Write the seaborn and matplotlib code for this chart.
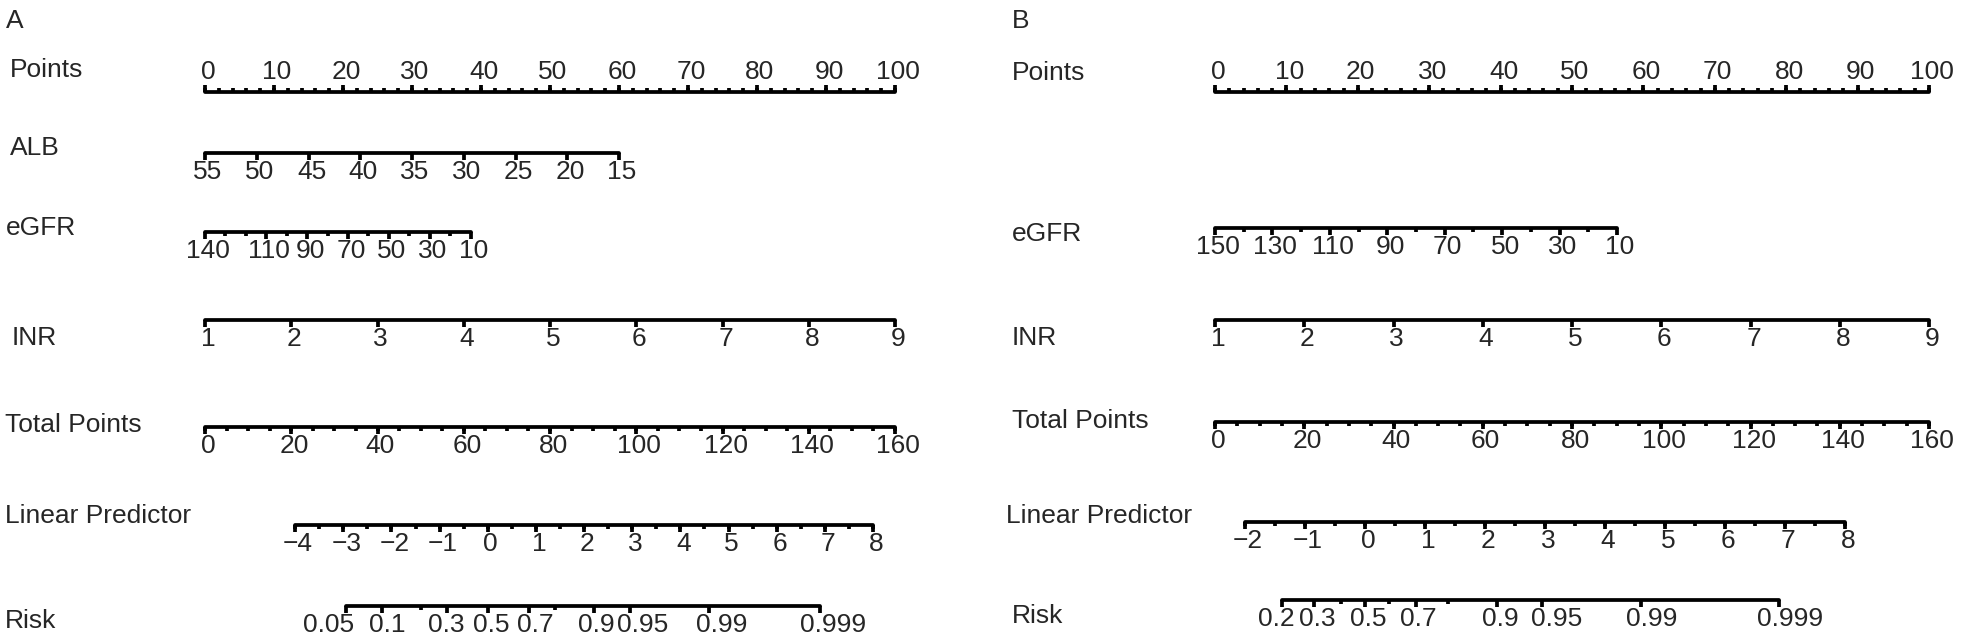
import numpy as np
import matplotlib
matplotlib.use("Agg")
import matplotlib.pyplot as plt
import seaborn as sns

# ---------------- data ----------------
points_major = list(range(0, 101, 10))
points_minor = list(range(0, 101, 2))
total_major = list(range(0, 161, 20))
total_minor = list(range(0, 161, 5))
total_max = 160

# Panel A
A_alb_ticks = [55, 50, 45, 40, 35, 30, 25, 20, 15]
A_alb_pts = (0, 60)                 # points at ALB 55 and ALB 15
A_egfr_ticks = [140, 130, 120, 110, 100, 90, 80, 70, 60, 50, 40, 30, 20, 10]
A_egfr_labels = [140, 110, 90, 70, 50, 30, 10]
A_egfr_pts = (0, 38.5)              # points at eGFR 140 and eGFR 10
A_inr_ticks = [1, 2, 3, 4, 5, 6, 7, 8, 9]
A_inr_pts = (0, 100)
A_lp_major = [-4, -3, -2, -1, 0, 1, 2, 3, 4, 5, 6, 7, 8]
A_lp_total = (20.9, 154.9)          # total points at LP -4 and LP 8
A_risk_ticks = [0.05, 0.1, 0.2, 0.3, 0.5, 0.7, 0.8, 0.9, 0.95, 0.99, 0.999]
A_risk_labels = ["0.05", "0.1", "", "0.3", "0.5", "0.7", "", "0.9", "0.95", "0.99", "0.999"]

# Panel B
B_egfr_ticks = [150, 140, 130, 120, 110, 100, 90, 80, 70, 60, 50, 40, 30, 20, 10]
B_egfr_labels = [150, 130, 110, 90, 70, 50, 30, 10]
B_egfr_pts = (0, 56.3)
B_inr_ticks = [1, 2, 3, 4, 5, 6, 7, 8, 9]
B_inr_pts = (0, 100)
B_lp_major = [-2, -1, 0, 1, 2, 3, 4, 5, 6, 7, 8]
B_lp_total = (6.7, 141.2)
B_risk_ticks = [0.2, 0.3, 0.4, 0.5, 0.6, 0.7, 0.8, 0.9, 0.95, 0.99, 0.999]
B_risk_labels = ["0.2", "0.3", "", "0.5", "", "0.7", "", "0.9", "0.95", "0.99", "0.999"]

# label nudges (pixels, layout only) as seen in the reference
A_risk_nudge = [-20, 2, 0, -4, 0, 4, 0, 0, 10, 10, 10]
B_risk_nudge = [-8, 0, 0, 0, 0, 0, 0, 0, 12, 8, 8]

# ---------------- style ----------------
sns.set_theme(style="white")
plt.rcParams["font.family"] = ["Liberation Sans", "DejaVu Sans"]
FS = 19        # row labels
TFS = 19       # tick labels
LW = 2.7
W, H = 1968, 636
DX = 3         # general right shift of tick labels (px)

fig = plt.figure(figsize=(W / 100, H / 100), dpi=100)


def lin(vals, v_ends, p_ends):
    v0, v1 = v_ends
    p0, p1 = p_ends
    return [p0 + (v - v0) * (p1 - p0) / (v1 - v0) for v in vals]


def tp_to_pts(tp):
    return [t * 100.0 / total_max for t in tp]


def draw_scale(ax, y, xs, labels, minor_xs=None, up=False, nudge=None,
               major_len=7, minor_len=4):
    ppp = ax.px_per_pt
    xs_all = list(xs) + (list(minor_xs) if minor_xs is not None else [])
    sns.lineplot(x=[min(xs_all), max(xs_all)], y=[y, y], ax=ax, color="black",
                 linewidth=LW, estimator=None, sort=False, legend=False)
    sgn = -1 if up else 1
    if minor_xs is not None:
        ax.vlines(minor_xs, y, y + sgn * minor_len, color="black", linewidth=LW)
    if nudge is None:
        nudge = [0] * len(xs)
    for x, lab, nd in zip(xs, labels, nudge):
        L = major_len if lab != "" else minor_len
        ax.vlines([x], y, y + sgn * L, color="black", linewidth=LW)
        if lab != "":
            xt = x + (DX + nd) / ppp
            if up:
                ax.text(xt, y - 8, lab, ha="center", va="bottom", fontsize=TFS)
            else:
                ax.text(xt, y + 7, lab, ha="center", va="top", fontsize=TFS)


def row_label(xpx, ypx, s):
    fig.text(xpx / W, 1 - ypx / H, s, ha="left", va="center", fontsize=FS)


def make_panel(left_px, right_px, zero_px, px_per_pt):
    ax = fig.add_axes([left_px / W, 0, (right_px - left_px) / W, 1])
    ax.set_xlim((left_px - zero_px) / px_per_pt, (right_px - zero_px) / px_per_pt)
    ax.set_ylim(H, 0)
    ax.set_axis_off()
    ax.px_per_pt = px_per_pt
    return ax


def neg(v):
    return ("\u2212" + str(-v)) if v < 0 else str(v)


# ---------------- Panel A ----------------
axA = make_panel(0, 984, 205, 6.9)
draw_scale(axA, 92, points_major, [str(v) for v in points_major],
           minor_xs=points_minor, up=True)
draw_scale(axA, 153, lin(A_alb_ticks, (55, 15), A_alb_pts), [str(v) for v in A_alb_ticks])
draw_scale(axA, 232, lin(A_egfr_ticks, (140, 10), A_egfr_pts),
           [str(v) if v in A_egfr_labels else "" for v in A_egfr_ticks])
draw_scale(axA, 320, lin(A_inr_ticks, (1, 9), A_inr_pts), [str(v) for v in A_inr_ticks])
draw_scale(axA, 427, tp_to_pts(total_major), [str(v) for v in total_major],
           minor_xs=tp_to_pts(total_minor))
A_lp_minor = list(np.arange(A_lp_major[0], A_lp_major[-1] + 0.01, 0.5))
draw_scale(axA, 525, tp_to_pts(lin(A_lp_major, (-4, 8), A_lp_total)),
           [neg(v) for v in A_lp_major],
           minor_xs=tp_to_pts(lin(A_lp_minor, (-4, 8), A_lp_total)))
A_risk_lp = [np.log(p / (1 - p)) for p in A_risk_ticks]
draw_scale(axA, 606, tp_to_pts(lin(A_risk_lp, (-4, 8), A_lp_total)), A_risk_labels,
           nudge=A_risk_nudge)

row_label(6, 21, "A")
row_label(10, 70, "Points")
row_label(10, 148, "ALB")
row_label(6, 228, "eGFR")
row_label(12, 338, "INR")
row_label(5, 425, "Total Points")
row_label(5, 516, "Linear Predictor")
row_label(5, 621, "Risk")

# ---------------- Panel B ----------------
axB = make_panel(984, 1968, 1215, 7.14)
draw_scale(axB, 92, points_major, [str(v) for v in points_major],
           minor_xs=points_minor, up=True)
draw_scale(axB, 228, lin(B_egfr_ticks, (150, 10), B_egfr_pts),
           [str(v) if v in B_egfr_labels else "" for v in B_egfr_ticks])
draw_scale(axB, 320, lin(B_inr_ticks, (1, 9), B_inr_pts), [str(v) for v in B_inr_ticks])
draw_scale(axB, 422, tp_to_pts(total_major), [str(v) for v in total_major],
           minor_xs=tp_to_pts(total_minor))
B_lp_minor = list(np.arange(B_lp_major[0], B_lp_major[-1] + 0.01, 0.5))
draw_scale(axB, 522, tp_to_pts(lin(B_lp_major, (-2, 8), B_lp_total)),
           [neg(v) for v in B_lp_major],
           minor_xs=tp_to_pts(lin(B_lp_minor, (-2, 8), B_lp_total)))
B_risk_lp = [np.log(p / (1 - p)) for p in B_risk_ticks]
draw_scale(axB, 600, tp_to_pts(lin(B_risk_lp, (-2, 8), B_lp_total)), B_risk_labels,
           nudge=B_risk_nudge)

row_label(1012, 21, "B")
row_label(1012, 73, "Points")
row_label(1012, 234, "eGFR")
row_label(1012, 338, "INR")
row_label(1012, 421, "Total Points")
row_label(1006, 516, "Linear Predictor")
row_label(1012, 616, "Risk")

fig.savefig("out.png", dpi=100, facecolor="white")
